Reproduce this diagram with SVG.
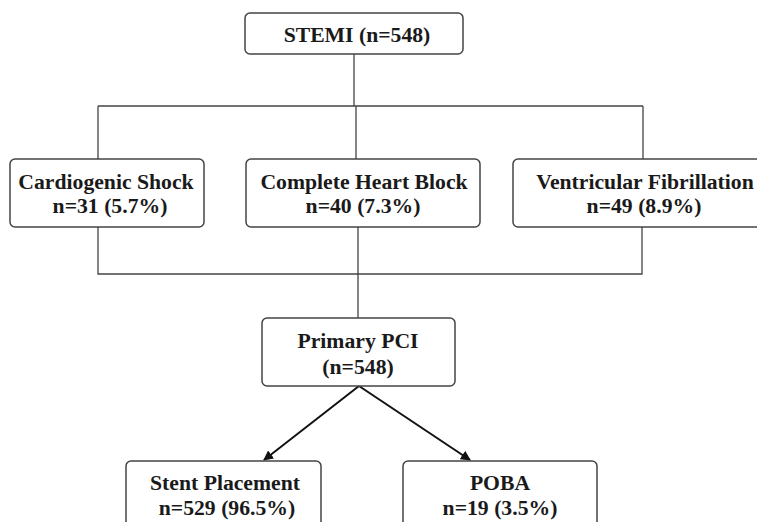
<svg xmlns="http://www.w3.org/2000/svg" width="757" height="522" viewBox="0 0 757 522">
<defs>
<marker id="ah" markerWidth="10" markerHeight="10" refX="9" refY="5" orient="auto" markerUnits="userSpaceOnUse" viewBox="0 0 10 10">
<path d="M0,0 L10,5 L0,10 z" fill="#111"/>
</marker>
<style>
.box{fill:#fff;stroke:#444;stroke-width:1.5}
.t{font-family:"Liberation Serif","Times New Roman",serif;font-weight:bold;font-size:21.7px;fill:#1a1a1a;text-anchor:middle}
.ln{fill:none;stroke:#444;stroke-width:1.3}
.ar{fill:none;stroke:#111;stroke-width:2}
</style>
</defs>
<rect width="757" height="522" fill="#fff"/>
<g id="connectors">
<path class="ln" d="M354,54 V106 M98,106 H643 M98,106 V159 M356,106 V159 M643,106 V159"/>
<path class="ln" d="M98,227 V274 H642 V227 M358,227 V318"/>
<line class="ar" x1="359" y1="386" x2="264" y2="460" marker-end="url(#ah)"/>
<line class="ar" x1="359" y1="386" x2="470" y2="460" marker-end="url(#ah)"/>
</g>
<g id="stemi">
<rect class="box" x="245" y="13" width="218" height="41" rx="5"/>
<text class="t" x="357" y="42">STEMI (n=548)</text>
</g>
<g id="cardiogenic">
<rect class="box" x="10" y="159" width="194" height="68" rx="5"/>
<text class="t" x="106" y="189">Cardiogenic Shock</text>
<text class="t" x="110" y="213">n=31 (5.7%)</text>
</g>
<g id="chb">
<rect class="box" x="246" y="159" width="234" height="68" rx="5"/>
<text class="t" x="364" y="189">Complete Heart Block</text>
<text class="t" x="363" y="213">n=40 (7.3%)</text>
</g>
<g id="vf">
<rect class="box" x="513" y="159" width="260" height="68" rx="5"/>
<text class="t" x="645" y="189">Ventricular Fibrillation</text>
<text class="t" x="644" y="213">n=49 (8.9%)</text>
</g>
<g id="pci">
<rect class="box" x="262" y="318" width="193" height="68" rx="5"/>
<text class="t" x="358" y="348">Primary PCI</text>
<text class="t" x="358" y="374">(n=548)</text>
</g>
<g id="stent">
<rect class="box" x="126" y="461" width="195" height="80" rx="5"/>
<text class="t" x="225" y="490">Stent Placement</text>
<text class="t" x="227" y="515">n=529 (96.5%)</text>
</g>
<g id="poba">
<rect class="box" x="403" y="461" width="194" height="80" rx="5"/>
<text class="t" x="500" y="490">POBA</text>
<text class="t" x="500" y="515">n=19 (3.5%)</text>
</g>
</svg>
